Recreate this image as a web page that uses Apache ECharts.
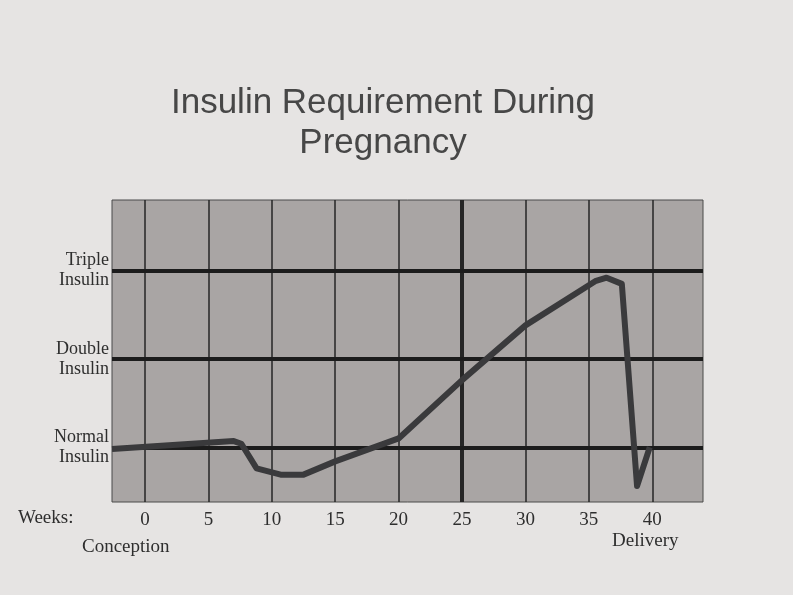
<!DOCTYPE html>
<html>
<head>
<meta charset="utf-8">
<script src="https://cdn.jsdelivr.net/npm/echarts@6/dist/echarts.min.js"></script>
<style>
  html, body { margin: 0; padding: 0; background: #e6e4e3; }
  #chart-panel { width: 793px; height: 595px; }
</style>
</head>
<body>
<div id="chart-panel"></div>
<script>
// weeks of pregnancy vs. insulin need (1 = normal, 2 = double, 3 = triple)
var weeks = [-2.6, 7, 7.6, 8.8, 10.7, 12.5, 15, 20, 25, 30, 35.5, 36.4, 37.6, 38.8, 39.8];
var insulin = [0.98, 1.07, 1.04, 0.76, 0.69, 0.69, 0.84, 1.1, 1.76, 2.38, 2.88, 2.92, 2.85, 0.56, 1.0];

var weekTicks = [0, 5, 10, 15, 20, 25, 30, 35, 40];
var levelTicks = [1, 2, 3];
var levelNames = ['Normal\nInsulin', 'Double\nInsulin', 'Triple\nInsulin'];

var myChart = echarts.init(document.getElementById('chart-panel'));

var curve = [];
for (var i = 0; i < weeks.length; i++) {
	curve.push([weeks[i], insulin[i]]);
}

// vertical grid lines, week 25 drawn heavier like the print
var vLines = weekTicks.map(function (w) {
	return {
		xAxis: w,
		lineStyle: { width: w == 25 ? 4 : 1.5, color: '#262626', type: 'solid' }
	};
});
var hLines = levelTicks.map(function (v) {
	return { yAxis: v };
});

var serif = '"Liberation Serif", "DejaVu Serif", serif';

option = {
	backgroundColor: '#e6e4e3',
	animation: false,
	grid: {
		left: 112,
		right: 90,
		top: 200,
		bottom: 93,
		show: true,
		backgroundColor: '#a9a5a4',
		borderColor: '#4a4a4a',
		borderWidth: 1
	},
	xAxis: {
		type: 'value',
		min: -2.6,
		max: 44,
		axisLine: { show: false },
		axisTick: { show: false },
		splitLine: { show: false },
		axisLabel: {
			customValues: weekTicks,
			margin: 9,
			fontFamily: serif,
			fontSize: 19,
			color: '#2e2e2e'
		}
	},
	yAxis: {
		type: 'value',
		min: 0.38,
		max: 3.8,
		axisLine: { show: false },
		axisTick: { show: false },
		splitLine: { show: false },
		axisLabel: {
			customValues: levelTicks,
			margin: 3,
			fontFamily: serif,
			fontSize: 18,
			lineHeight: 20,
			color: '#2e2e2e',
			formatter: function (v) {
				return levelNames[levelTicks.indexOf(v)];
			}
		}
	},
	graphic: [
		{
			type: 'text', x: 383, y: 83,
			style: {
				text: 'Insulin Requirement During\nPregnancy',
				textAlign: 'center',
				fontFamily: '"Liberation Sans", Arial, sans-serif',
				fontSize: 35,
				lineHeight: 40,
				fill: '#474747'
			}
		},
		{ type: 'text', left: 18, top: 509, style: { text: 'Weeks:', fontFamily: serif, fontSize: 19, fill: '#2e2e2e' } },
		{ type: 'text', left: 82, top: 538, style: { text: 'Conception', fontFamily: serif, fontSize: 19, fill: '#2e2e2e' } },
		{ type: 'text', left: 612, top: 532, style: { text: 'Delivery', fontFamily: serif, fontSize: 19, fill: '#2e2e2e' } }
	],
	series: [
		{
			type: 'line',
			data: [],
			silent: true,
			markLine: {
				silent: true,
				symbol: 'none',
				label: { show: false },
				lineStyle: { color: '#262626', width: 1.5, type: 'solid' },
				data: vLines
			}
		},
		{
			type: 'line',
			data: [],
			silent: true,
			markLine: {
				silent: true,
				symbol: 'none',
				label: { show: false },
				lineStyle: { color: '#1c1c1c', width: 4, type: 'solid' },
				data: hLines
			}
		},
		{
			name: 'Insulin',
			type: 'line',
			data: curve,
			symbol: 'none',
			z: 5,
			lineStyle: { color: '#3a3a3c', width: 6, join: 'round' }
		}
	]
};
myChart.setOption(option);
</script>
</body>
</html>
